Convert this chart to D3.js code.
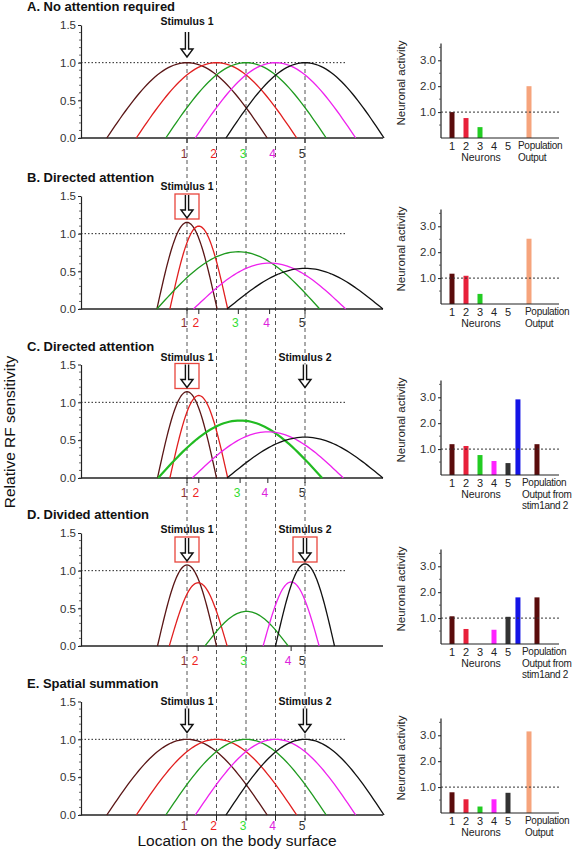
<!DOCTYPE html>
<html><head><meta charset="utf-8">
<script src="https://cdn.jsdelivr.net/npm/d3@7"></script>
<style>
html,body{margin:0;padding:0;background:#fff;}
svg{display:block;font-family:"Liberation Sans",Arial,Helvetica,sans-serif;}
</style>
</head><body>
<svg id="chart" width="574" height="852"></svg>
<script>
// ---------------- DATA ----------------
const locations = [1, 2, 3, 4, 5];
const neuronLabels = ["1", "2", "3", "4", "5"];
const panelTitles = ["A. No attention required", "B. Directed attention", "C. Directed attention", "D. Divided attention", "E. Spatial summation"];
const leftTicks = [0, 0.5, 1.0, 1.5];
const barTicks = [1, 2, 3];
const stimulusNames = ["Stimulus 1", "Stimulus 2"];
const stimulusLocations = [1, 5];

// receptive fields: peak location, peak sensitivity, half-width (location units)
const rfCentersA = [1, 2, 3, 4, 5];
const rfHeightsA = [1, 1, 1, 1, 1];
const rfWidthsA = [2.72, 2.72, 2.72, 2.72, 2.68];

const rfCentersB = [1, 1.4, 2.74, 3.8, 5];
const rfHeightsB = [1.15, 1.10, 0.76, 0.61, 0.54];
const rfWidthsB = [1.02, 0.98, 2.76, 2.58, 2.64];

const rfCentersC = [1, 1.4, 2.8, 3.74, 5];
const rfHeightsC = [1.14, 1.09, 0.76, 0.61, 0.54];
const rfWidthsC = [1.0, 0.98, 2.78, 2.56, 2.64];

const rfCentersD = [1, 1.38, 3.02, 4.53, 5];
const rfHeightsD = [1.075, 0.84, 0.46, 0.85, 1.09];
const rfWidthsD = [1.0, 0.98, 1.41, 0.95, 1.0];

const rfCentersE = [1, 2, 3, 4, 5];
const rfHeightsE = [1, 1, 1, 1, 1];
const rfWidthsE = [2.72, 2.72, 2.72, 2.72, 2.68];

// neuronal activity bars
const neuronActivityA = [1.0, 0.77, 0.42, 0, 0];
const neuronActivityB = [1.17, 1.09, 0.39, 0, 0];
const neuronActivityC = [1.19, 1.12, 0.77, 0.54, 0.46];
const neuronActivityD = [1.07, 0.58, 0, 0.55, 1.05];
const neuronActivityE = [0.80, 0.53, 0.25, 0.53, 0.78];

const populationA = [2.0];
const populationB = [2.52];
const populationC = [2.92, 1.19];
const populationD = [1.80, 1.80];
const populationE = [3.15];

const outputLabelsSingle = ["Population", "Output"];
const outputLabelsDouble = ["Population", "Output from", "stim1and 2"];

// ---------------- STYLES / LAYOUT ----------------
const curveColors = ["#5a1616", "#e11f1f", "#1f9a1f", "#ee22ee", "#111111"];
const labelColors = ["#8a3434", "#ee2222", "#33dd33", "#dd22dd", "#333333"];
const barColors = ["#5a0c0c", "#e8203a", "#22cc22", "#ff22ff", "#333333"];
const popColorsSingle = ["#f6a47c"];
const popColorsDouble = ["#1414e6", "#5a0c0c"];

const panels = [
  {rf: [rfCentersA, rfHeightsA, rfWidthsA], bars: neuronActivityA, pop: populationA, popSlots: [6.5], popColors: popColorsSingle, outLabels: outputLabelsSingle, outX: 518,
   top: 25, base: 138, barBase: 138, stim: [0], boxed: [false], stimDy: 0, arrowDy: 7, arrowLen: 25, labelDy: 20},
  {rf: [rfCentersB, rfHeightsB, rfWidthsB], bars: neuronActivityB, pop: populationB, popSlots: [6.5], popColors: popColorsSingle, outLabels: outputLabelsSingle, outX: 525,
   top: 196, base: 309, barBase: 304, stim: [0], boxed: [true], stimDy: -6, arrowDy: -1, arrowLen: 23, labelDy: 18},
  {rf: [rfCentersC, rfHeightsC, rfWidthsC], bars: neuronActivityC, pop: populationC, popSlots: [5.71, 7.07], popColors: popColorsDouble, outLabels: outputLabelsDouble, outX: 522,
   top: 364.5, base: 478, barBase: 475, stim: [0, 1], boxed: [true, false], stimDy: -4, arrowDy: 0, arrowLen: 23, labelDy: 19, thickGreen: true},
  {rf: [rfCentersD, rfHeightsD, rfWidthsD], bars: neuronActivityD, pop: populationD, popSlots: [5.71, 7.07], popColors: popColorsDouble, outLabels: outputLabelsDouble, outX: 522,
   top: 533, base: 646, barBase: 644, stim: [0, 1], boxed: [true, true], stimDy: 0, arrowDy: 5, arrowLen: 23, labelDy: 19},
  {rf: [rfCentersE, rfHeightsE, rfWidthsE], bars: neuronActivityE, pop: populationE, popSlots: [6.5], popColors: popColorsSingle, outLabels: outputLabelsSingle, outX: 525,
   top: 701.5, base: 815, barBase: 813, stim: [0, 1], boxed: [false, false], stimDy: 3, arrowDy: 7, arrowLen: 24, labelDy: 15}
];

const svg = d3.select("#chart");
const xLoc = d3.scaleLinear().domain([1, 5]).range([187, 305]);
const axisX0 = 81, axisX1 = 383;
const xSlot = d3.scaleLinear().domain([1, 5]).range([452, 508]);
const barAxisX = 441, barAxisX1 = 559;
const barUnit = 25.9;

// dashed vertical guides
svg.append("g").selectAll("line").data(locations).join("line")
  .attr("x1", d => xLoc(d)).attr("x2", d => xLoc(d))
  .attr("y1", 62).attr("y2", 821)
  .attr("stroke", "#555").attr("stroke-width", 1).attr("stroke-dasharray", "4,3");

function arrowPath(cx, y0, len) {
  const headH = 8, headW = 6, sh = 1.6;
  const hy = y0 + len - headH;
  return `M${cx - sh},${y0} L${cx - sh},${hy} L${cx - headW},${hy} L${cx},${y0 + len} L${cx + headW},${hy} L${cx + sh},${hy} L${cx + sh},${y0}`;
}

panels.forEach((p, pi) => {
  const g = svg.append("g");
  const y = d3.scaleLinear().domain([0, 1.5]).range([p.base, p.top]);

  // title
  g.append("text").attr("x", 27).attr("y", p.top - 14)
    .attr("font-size", 13).attr("font-weight", "bold").attr("fill", "#111")
    .text(panelTitles[pi]);

  // left axis
  const ax = g.append("g").attr("transform", `translate(${axisX0},0)`)
    .call(d3.axisLeft(y).tickValues(leftTicks).tickFormat(d3.format(".1f")).tickSize(3).tickSizeOuter(0).tickPadding(2));
  ax.select(".domain").attr("stroke", "#222").attr("stroke-width", 1.2);
  ax.selectAll(".tick line").attr("stroke", "#222");
  ax.selectAll(".tick text").attr("font-size", 11.5).attr("fill", "#333").attr("font-family", "Liberation Sans, Arial, sans-serif");
  g.append("g").selectAll("line").data(d3.range(0, 15).map(d => d / 10)).join("line")
    .attr("x1", axisX0 - 2).attr("x2", axisX0).attr("y1", d => y(d)).attr("y2", d => y(d))
    .attr("stroke", "#444").attr("stroke-width", 0.8);

  // baseline
  g.append("line").attr("x1", axisX0).attr("x2", axisX1).attr("y1", p.base).attr("y2", p.base)
    .attr("stroke", "#222").attr("stroke-width", 1.3);

  // 1.0 reference
  g.append("line").attr("x1", axisX0).attr("x2", 345).attr("y1", y(1)).attr("y2", y(1))
    .attr("stroke", "#222").attr("stroke-width", 1).attr("stroke-dasharray", "1.5,2");

  // RF curves
  const [cs, hs, ws] = p.rf;
  const line = d3.line().x(d => xLoc(d[0])).y(d => y(d[1]));
  cs.forEach((c, k) => {
    const pts = d3.range(0, 61).map(j => {
      const t = -1 + 2 * j / 60;
      return [c + t * ws[k], hs[k] * Math.cos(Math.PI / 2 * t)];
    });
    const thick = p.thickGreen && k === 2;
    g.append("path").attr("d", line(pts)).attr("fill", "none")
      .attr("stroke", thick ? "#22bb22" : curveColors[k])
      .attr("stroke-width", thick ? 2.2 : 1.3);
  });

  // peak ticks + labels
  g.append("g").selectAll("line").data(cs).join("line")
    .attr("x1", d => xLoc(d)).attr("x2", d => xLoc(d))
    .attr("y1", p.base).attr("y2", p.base + 5)
    .attr("stroke", "#222").attr("stroke-width", 1);
  g.append("g").selectAll("text").data(cs).join("text")
    .attr("x", d => xLoc(d) - 3).attr("y", p.base + p.labelDy)
    .attr("text-anchor", "middle").attr("font-size", 12)
    .attr("fill", (d, k) => labelColors[k])
    .text((d, k) => neuronLabels[k]);

  // stimuli
  p.stim.forEach((si, n) => {
    const cx = xLoc(stimulusLocations[si]);
    g.append("text").attr("x", cx).attr("y", p.top + p.stimDy)
      .attr("text-anchor", "middle").attr("font-size", 10.5).attr("font-weight", "bold").attr("fill", "#111")
      .text(stimulusNames[si]);
    const ay = p.top + p.arrowDy;
    if (p.boxed[n]) {
      g.append("rect").attr("x", cx - 12).attr("y", ay - 1).attr("width", 24).attr("height", 25)
        .attr("fill", "white").attr("stroke", "#e8453c").attr("stroke-width", 1.3);
    }
    g.append("path").attr("d", arrowPath(cx, ay, p.arrowLen))
      .attr("fill", "white").attr("stroke", "#111").attr("stroke-width", 1.4).attr("stroke-linejoin", "miter");
  });

  // ---------- right bar chart ----------
  const yb = d3.scaleLinear().domain([0, 1]).range([p.barBase, p.barBase - barUnit]);
  const bx = g.append("g").attr("transform", `translate(${barAxisX},0)`)
    .call(d3.axisLeft(yb).tickValues(barTicks).tickFormat(d3.format(".1f")).tickSize(3).tickSizeOuter(0).tickPadding(2));
  bx.select(".domain").remove();
  bx.selectAll(".tick line").attr("stroke", "#222");
  bx.selectAll(".tick text").attr("font-size", 11.5).attr("fill", "#333");
  g.append("line").attr("x1", barAxisX).attr("x2", barAxisX).attr("y1", p.barBase).attr("y2", yb(3.65))
    .attr("stroke", "#222").attr("stroke-width", 1.2);
  g.append("g").selectAll("line").data([0.5, 1.5, 2.5, 3.5]).join("line")
    .attr("x1", barAxisX - 2).attr("x2", barAxisX).attr("y1", d => yb(d)).attr("y2", d => yb(d))
    .attr("stroke", "#444").attr("stroke-width", 0.8);

  // neuron bars
  g.append("g").selectAll("rect").data(p.bars).join("rect")
    .attr("x", (d, k) => xSlot(k + 1) - 2.5).attr("width", 5)
    .attr("y", d => yb(d)).attr("height", d => p.barBase - yb(d))
    .attr("fill", (d, k) => barColors[k]);
  // population bars
  g.append("g").selectAll("rect").data(p.pop).join("rect")
    .attr("x", (d, k) => xSlot(p.popSlots[k]) - 2.5).attr("width", 5)
    .attr("y", d => yb(d)).attr("height", d => p.barBase - yb(d))
    .attr("fill", (d, k) => p.popColors[k]);

  // baseline + 1.0 dotted
  g.append("line").attr("x1", barAxisX).attr("x2", barAxisX1).attr("y1", p.barBase).attr("y2", p.barBase)
    .attr("stroke", "#222").attr("stroke-width", 1.2);
  g.append("line").attr("x1", barAxisX).attr("x2", barAxisX1).attr("y1", yb(1)).attr("y2", yb(1))
    .attr("stroke", "#333").attr("stroke-width", 1).attr("stroke-dasharray", "2,2");

  // y label
  g.append("text").attr("transform", `translate(405,${p.barBase - 55}) rotate(-90)`)
    .attr("text-anchor", "middle").attr("font-size", 11.5).attr("fill", "#222")
    .text("Neuronal activity");

  // x labels
  g.append("g").selectAll("text").data(neuronLabels).join("text")
    .attr("x", (d, k) => xSlot(k + 1)).attr("y", p.barBase + 11.5)
    .attr("text-anchor", "middle").attr("font-size", 11).attr("fill", "#222").text(d => d);
  g.append("text").attr("x", xSlot(3) + 1).attr("y", p.barBase + 22.5)
    .attr("text-anchor", "middle").attr("font-size", 10.5).attr("fill", "#222").text("Neurons");
  g.append("g").selectAll("text").data(p.outLabels).join("text")
    .attr("x", p.outX).attr("y", (d, k) => p.barBase + 11 + k * 11.5)
    .attr("font-size", 10).attr("letter-spacing", "-0.3px").attr("fill", "#222").text(d => d);
});

// global axis titles
svg.append("text").attr("transform", "translate(15,432) rotate(-90)")
  .attr("text-anchor", "middle").attr("font-size", 15.5).attr("fill", "#111")
  .text("Relative RF sensitivity");
svg.append("text").attr("x", 237).attr("y", 846)
  .attr("text-anchor", "middle").attr("font-size", 15.5).attr("fill", "#111")
  .text("Location on the body surface");
</script>
</body></html>
